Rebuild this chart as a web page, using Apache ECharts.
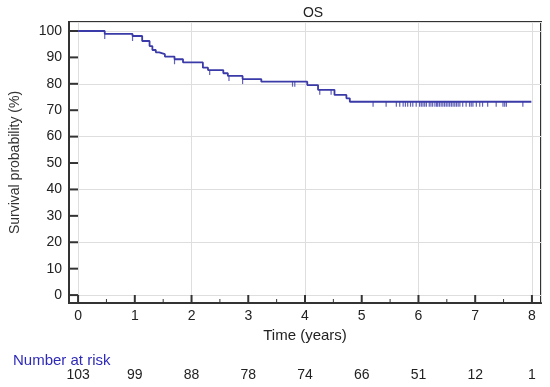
<!DOCTYPE html>
<html>
<head>
<meta charset="utf-8">
<script src="https://cdn.jsdelivr.net/npm/echarts@6/dist/echarts.min.js"></script>
<style>html,body{margin:0;padding:0;background:#fff}#c{width:550px;height:387px}</style>
</head>
<body>
<div id="c"></div>
<script>
// Kaplan-Meier step points: time (years) and survival (%) after each drop
var eventTimes = [0, 0.47, 0.96, 1.13, 1.26, 1.31, 1.37, 1.43, 1.53, 1.70, 1.85, 2.20, 2.29, 2.56, 2.64, 2.90, 3.23, 4.04, 4.23, 4.52, 4.73, 4.79, 7.99];
var survival   = [100, 98.9, 98.1, 96.2, 94.3, 92.8, 91.9, 91.2, 90.3, 89.3, 88.1, 86.1, 85.2, 84.0, 83.0, 81.8, 80.8, 79.5, 77.7, 75.8, 74.5, 73.2, 73.2];

// Censored observations
var censorTimes = [0.47, 0.96, 1.70, 2.32, 2.66, 2.90, 3.78, 3.82, 4.26, 4.46,
  5.20, 5.43, 5.61, 5.67, 5.73, 5.77, 5.81, 5.86, 5.90, 5.96, 6.02, 6.05, 6.08, 6.11, 6.14, 6.19, 6.22, 6.25,
  6.29, 6.32, 6.34, 6.37, 6.40, 6.43, 6.46, 6.49, 6.52, 6.55, 6.58, 6.61, 6.64, 6.67, 6.70, 6.73, 6.78, 6.84,
  6.90, 6.93, 6.96, 7.02, 7.08, 7.13, 7.22, 7.37, 7.49, 7.52, 7.55, 7.84];
var censorValues = [98.9, 98.1, 89.3, 85.2, 83.0, 81.8, 80.8, 80.8, 77.7, 77.7,
  73.2, 73.2, 73.2, 73.2, 73.2, 73.2, 73.2, 73.2, 73.2, 73.2, 73.2, 73.2, 73.2, 73.2, 73.2, 73.2, 73.2, 73.2,
  73.2, 73.2, 73.2, 73.2, 73.2, 73.2, 73.2, 73.2, 73.2, 73.2, 73.2, 73.2, 73.2, 73.2, 73.2, 73.2, 73.2, 73.2,
  73.2, 73.2, 73.2, 73.2, 73.2, 73.2, 73.2, 73.2, 73.2, 73.2, 73.2, 73.2];

var xTicks = [0, 1, 2, 3, 4, 5, 6, 7, 8];
var xMinorTicks = [0.5, 1.5, 2.5, 3.5, 4.5, 5.5, 6.5, 7.5];
var yTicks = [0, 10, 20, 30, 40, 50, 60, 70, 80, 90, 100];
var riskNumbers = [103, 99, 88, 78, 74, 66, 51, 12, 1];

var XMIN = -0.16, XMAX = 8.16, YMIN = -3, YMAX = 103.4;

var curve = eventTimes.map(function (t, i) { return [t, survival[i]]; });
var censors = censorTimes.map(function (t, i) { return [t, censorValues[i]]; });

var FONT = '"Liberation Sans", Arial, sans-serif';
var INK = '#333';

function tickSeries(data, isX, len, width) {
  return {
    type: 'custom', coordinateSystem: 'cartesian2d', silent: true, z: 2, clip: false,
    data: data.map(function (v) { return isX ? [v, YMIN] : [XMIN, v]; }),
    renderItem: function (params, api) {
      var p = api.coord([api.value(0), api.value(1)]);
      return {type: 'line',
        shape: isX ? {x1: p[0], y1: p[1], x2: p[0], y2: p[1] - len}
                   : {x1: p[0], y1: p[1], x2: p[0] + len, y2: p[1]},
        style: {stroke: INK, lineWidth: width}};
    }
  };
}

var chart = echarts.init(document.getElementById('c'), null, {renderer: 'canvas'});
chart.setOption({
  animation: false,
  backgroundColor: '#fff',
  title: [
    {text: 'OS', left: 308, top: 1, textAlign: 'center',
     textStyle: {fontSize: 14, fontWeight: 'normal', color: '#222', fontFamily: FONT}},
    {text: 'Number at risk', left: 8, top: 348,
     textStyle: {fontSize: 15, fontWeight: 'normal', color: '#2e2ab8', fontFamily: FONT}}
  ],
  grid: {left: 69, right: 9, top: 22, bottom: 84, show: true, borderColor: INK, borderWidth: 2},
  xAxis: [
    {type: 'value', min: XMIN, max: XMAX,
     axisLine: {show: true, onZero: false, lineStyle: {color: INK, width: 2}},
     axisTick: {show: false},
     axisLabel: {customValues: xTicks, fontSize: 14, color: '#222', margin: 6, fontFamily: FONT},
     splitLine: {show: true, lineStyle: {color: '#dedede', width: 1}},
     name: 'Time (years)', nameLocation: 'middle', nameGap: 24,
     nameTextStyle: {fontSize: 15, color: '#222', fontFamily: FONT}},
    {type: 'value', min: XMIN, max: XMAX, position: 'bottom', offset: 61,
     axisLine: {show: false, onZero: false}, axisTick: {show: false}, splitLine: {show: false},
     axisLabel: {customValues: xTicks, fontSize: 14, color: '#222', margin: 4, fontFamily: FONT,
       formatter: function (v) { return String(riskNumbers[Math.round(v)]); }}}
  ],
  yAxis: {
    type: 'value', min: YMIN, max: YMAX,
    axisLine: {show: true, onZero: false, lineStyle: {color: INK, width: 2}},
    axisTick: {show: false},
    axisLabel: {customValues: yTicks, fontSize: 14, color: '#222', margin: 7, fontFamily: FONT},
    splitLine: {show: true, lineStyle: {color: '#dedede', width: 1}},
    name: 'Survival probability (%)', nameLocation: 'middle', nameGap: 47, nameRotate: 90,
    nameTextStyle: {fontSize: 14, color: INK, fontFamily: FONT}
  },
  series: [
    tickSeries(yTicks, false, 9, 2),
    tickSeries(xTicks, true, 8, 2),
    tickSeries(xMinorTicks, true, 4, 1),
    {type: 'line', data: curve, step: 'end', showSymbol: false, symbol: 'none',
     lineStyle: {color: '#3a3aa8', width: 1.8}, z: 3},
    {type: 'scatter', data: censors, symbol: 'rect', symbolSize: [1.2, 5], symbolOffset: [0, 2.5],
     itemStyle: {color: '#3a3aa8'}, z: 4}
  ]
});
</script>
</body>
</html>
